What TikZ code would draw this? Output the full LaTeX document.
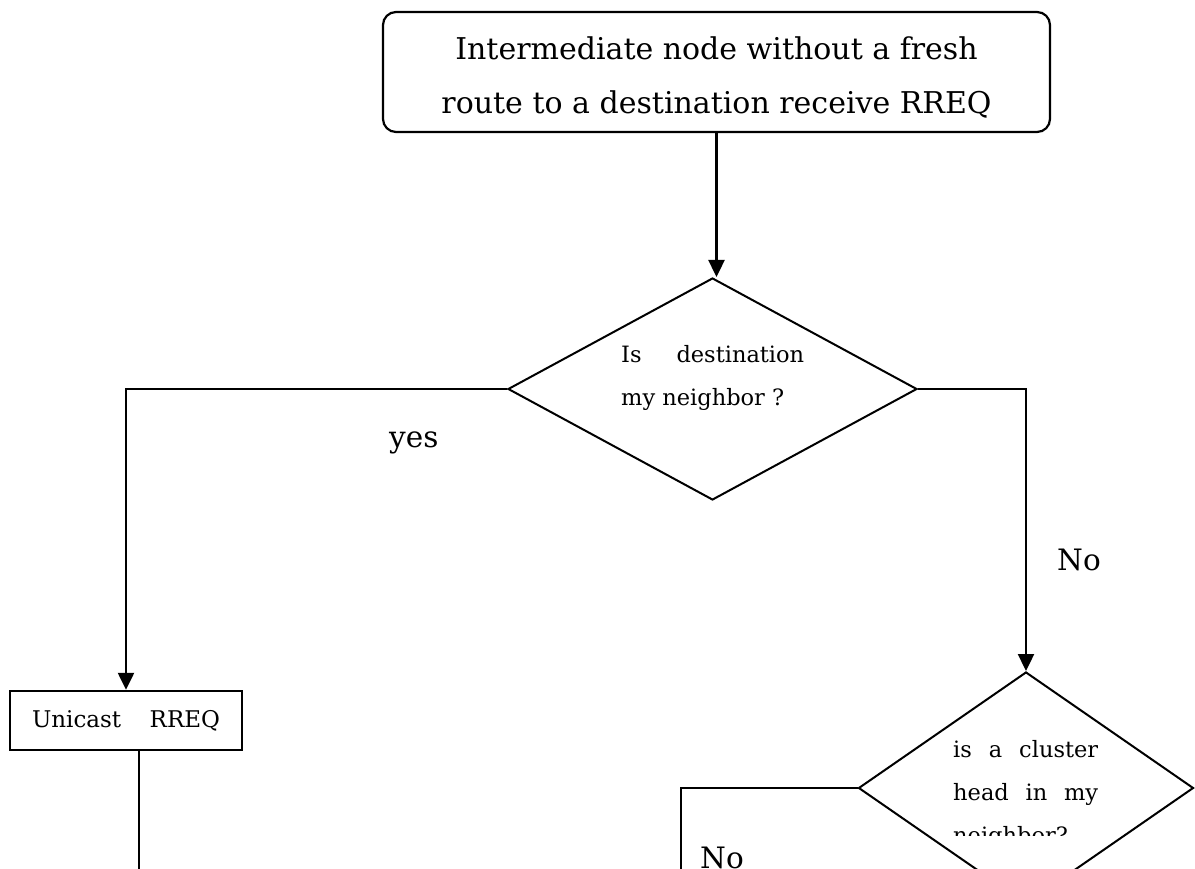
\documentclass[tikz,border=0pt]{standalone}
\usepackage{fontspec}
\setmainfont{DejaVu Serif}
\usetikzlibrary{shapes.geometric,arrows.meta}
\tikzset{
  conn/.style={line width=2.4pt, -{Triangle[length=17pt,width=16pt]}},
  plain/.style={line width=2.4pt},
  startbox/.style={draw, line width=2.2pt, rounded corners=13pt, minimum width=667pt, minimum height=120pt, inner sep=0pt, align=center, text height=84pt, text depth=0pt, font=\fontsize{30}{54}\selectfont},
  decision/.style={draw, diamond, line width=2pt, inner sep=0pt},
  actbox/.style={draw, line width=2.4pt, minimum width=232pt, minimum height=59pt, inner sep=0pt, font=\fontsize{23}{26}\selectfont},
  dtext/.style={inner sep=0pt, align=left, font=\fontsize{22.5}{43}\selectfont},
  lbl/.style={inner sep=0pt, font=\fontsize{29.5}{32}\selectfont}
}
\begin{document}
\begin{tikzpicture}[x=1pt,y=-1pt]
\path[use as bounding box, clip] (0,0) rectangle (1195,869);
\node[startbox] (start) at (716.5,72) {Intermediate node without a fresh\\route to a destination receive RREQ};
\node[decision, minimum width=409pt, minimum height=222pt] (d1) at (712.5,389) {};
\node[dtext, anchor=base west] (d1t) at (621,405) {\makebox[183pt][s]{Is destination}\\my neighbor ?};
\node[actbox] (uni) at (126,720.5) {\makebox[188pt][s]{Unicast RREQ}};
\node[decision, minimum width=335pt, minimum height=232pt] (d2) at (1026,788) {};
\begin{scope}
\clip (940,725) rectangle (1110,835);
\node[dtext, anchor=base west] (d2t) at (953,843) {\makebox[145pt][s]{is a cluster}\\\makebox[145pt][s]{head in my}\\neighbor?};
\end{scope}
\node[lbl, anchor=base west] (yes) at (389,447) {yes};
\node[lbl, anchor=base west] (no1) at (1057,570) {No};
\node[lbl, anchor=base west] (no2) at (700,868) {No};
\coordinate (e1) at (139,900);
\coordinate (e2) at (681,900);
\draw[conn] (start.south) -- (start.south |- d1.north);
\draw[conn] (d1.west) -| (uni.north);
\draw[conn] (d1.east) -| (d2.north);
\draw[plain] (uni.south -| e1) -- (e1);
\draw[plain] (d2.west) -| (e2);
\end{tikzpicture}
\end{document}
